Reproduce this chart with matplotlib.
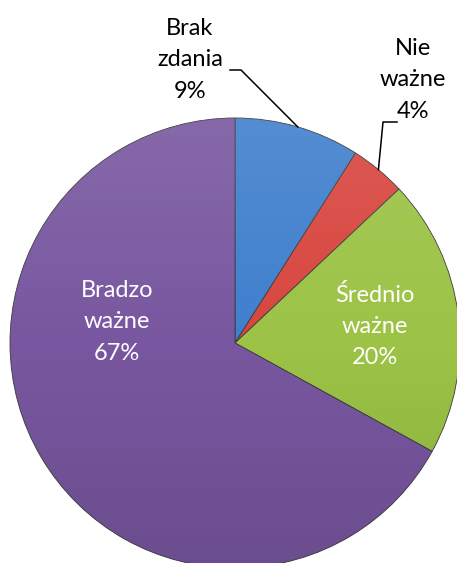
"""Pie chart: ocena ważności (Brak zdania / Nie ważne / Średnio ważne / Bradzo ważne)."""

import numpy as np
import matplotlib
matplotlib.use("Agg")
import matplotlib.pyplot as plt
from matplotlib.patches import Circle

LABELS = ["Brak\nzdania", "Nie\nważne", "Średnio\nważne", "Bradzo\nważne"]
VALUES = [9, 4, 20, 67]
COLORS = ["#3f7fcd", "#d8463f", "#9cc346", "#7857a0"]

plt.rcParams["font.family"] = ["Lato", "DejaVu Sans"]

W, H = 457, 563
CX, CY, R = 235, H - 343, 225

fig = plt.figure(figsize=(W / 100, H / 100), dpi=100)
ax = fig.add_axes([0, 0, 1, 1])

wedges, _ = ax.pie(
    VALUES,
    colors=COLORS,
    startangle=90,
    counterclock=False,
    center=(CX, CY),
    radius=R,
    frame=True,
    wedgeprops=dict(edgecolor="#3a3a3a", linewidth=0.6),
)
ax.set_xlim(0, W)
ax.set_ylim(0, H)
ax.set_aspect("equal")
ax.axis("off")

# light top / dark bottom shading like the Excel style
t = np.linspace(0, 1, 256)
grad = np.zeros((256, 1, 4))
grad[:, 0, :3] = np.where(t[:, None] > 0.5, 1.0, 0.0)
grad[:, 0, 3] = np.abs(t - 0.5) * 0.22
img = ax.imshow(grad, extent=(CX - R, CX + R, CY - R, CY + R), origin="lower",
                aspect="auto", zorder=3, interpolation="bilinear")
img.set_clip_path(Circle((CX, CY), R, transform=ax.transData))

fs = 17
ls = 1.6
pct = [f"{v}%" for v in VALUES]
# inside labels (white)
ax.text(117, H - 322, f"{LABELS[3]}\n{pct[3]}", color="white", fontsize=fs,
        ha="center", va="center", linespacing=ls, zorder=5)
ax.text(375, H - 326, f"{LABELS[2]}\n{pct[2]}", color="white", fontsize=fs,
        ha="center", va="center", linespacing=ls, zorder=5)
# outside labels (black) with leader lines
ax.text(190, H - 60, f"{LABELS[0]}\n{pct[0]}", color="black", fontsize=fs,
        ha="center", va="center", linespacing=ls, zorder=5)
ax.text(413, H - 80, f"{LABELS[1]}\n{pct[1]}", color="black", fontsize=fs,
        ha="center", va="center", linespacing=ls, zorder=5)


def anchor(i):
    start = 90 - sum(VALUES[:i]) * 3.6
    mid = np.radians(start - VALUES[i] * 1.8)
    return CX + R * np.cos(mid), CY + R * np.sin(mid)


a0 = anchor(0)
ax.plot([230, 241, a0[0]], [H - 70, H - 70, a0[1]], color="black", lw=1.1, zorder=5)
a1 = anchor(1)
ax.plot([397, 383, a1[0]], [H - 122, H - 122, a1[1]], color="black", lw=1.1, zorder=5)

fig.savefig("out.png", dpi=100, facecolor="white")
